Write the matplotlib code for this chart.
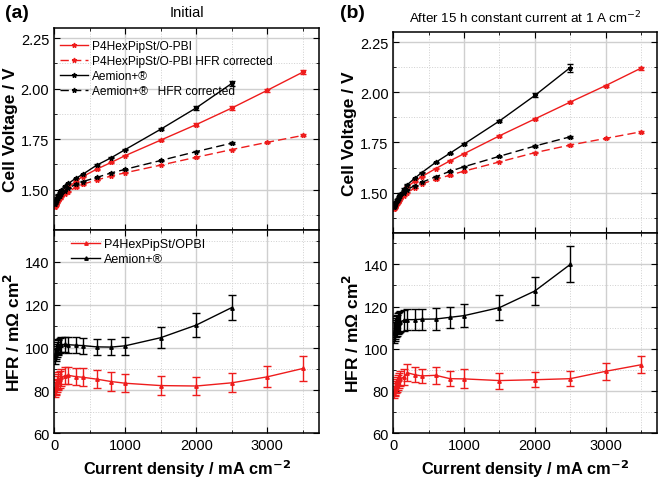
import numpy as np
import matplotlib
matplotlib.use("Agg")
import matplotlib.pyplot as plt
from matplotlib.ticker import MultipleLocator

plt.rcParams['font.family'] = ['Liberation Sans', 'DejaVu Sans']

# current density points (mA cm-2)
j_pbi = [10, 20, 30, 40, 50, 60, 80, 100, 150, 200, 300, 400, 600, 800, 1000, 1500, 2000, 2500, 3000, 3500]
j_aem = [10, 20, 30, 40, 50, 60, 80, 100, 150, 200, 300, 400, 600, 800, 1000, 1500, 2000, 2500]

# (a) initial - cell voltage
v_pbi_a = [1.415, 1.425, 1.435, 1.445, 1.452, 1.46, 1.47, 1.48, 1.495, 1.51, 1.54, 1.564, 1.601, 1.634, 1.668, 1.745, 1.822, 1.904, 1.992, 2.082]
v_pbi_a_err = [0.003]*14 + [0.004, 0.005, 0.007, 0.008, 0.008, 0.011]
vc_pbi_a = [1.413, 1.422, 1.43, 1.437, 1.443, 1.448, 1.457, 1.465, 1.478, 1.49, 1.51, 1.526, 1.547, 1.567, 1.583, 1.621, 1.66, 1.698, 1.734, 1.768]
vc_pbi_a_err = [0.002]*17 + [0.003, 0.003, 0.005]
v_aem_a = [1.43, 1.44, 1.45, 1.46, 1.468, 1.475, 1.487, 1.497, 1.515, 1.53, 1.555, 1.575, 1.621, 1.657, 1.698, 1.799, 1.905, 2.026]
v_aem_a_err = [0.003]*14 + [0.004, 0.006, 0.01, 0.012]
vc_aem_a = [1.428, 1.436, 1.444, 1.45, 1.456, 1.462, 1.47, 1.478, 1.495, 1.507, 1.525, 1.539, 1.56, 1.582, 1.6, 1.644, 1.688, 1.73]
vc_aem_a_err = [0.002]*16 + [0.003, 0.004]

# (a) initial - HFR
r_pbi_a = [80.5, 81.5, 82, 83, 84, 84.5, 85.2, 86, 86.8, 87, 86.4, 86.1, 85.2, 84.1, 83.3, 82.2, 82.0, 83.5, 86.3, 90.2]
r_pbi_a_err = [3.5, 3.5, 3.5, 3.8, 3.8, 4, 4, 4, 4, 4, 4, 4.1, 4.2, 4.3, 4.3, 4.5, 4.2, 4.5, 4.9, 5.8]
r_aem_a = [96, 97, 98, 99, 100, 100.5, 101, 101.3, 101.5, 101.3, 101.1, 100.9, 100.3, 100.2, 100.8, 104.6, 110.5, 118.7]
r_aem_a_err = [3.5, 3.5, 3.5, 3.5, 3.5, 3.6, 3.6, 3.6, 3.6, 3.7, 3.7, 3.7, 3.8, 3.8, 4.3, 5.0, 5.6, 6.0]

# (b) after 15 h at 1 A cm-2 - cell voltage
v_pbi_b = [1.42, 1.428, 1.436, 1.444, 1.451, 1.458, 1.47, 1.48, 1.502, 1.53, 1.556, 1.579, 1.62, 1.658, 1.694, 1.783, 1.867, 1.951, 2.033, 2.12]
v_pbi_b_err = [0.003]*15 + [0.004, 0.004, 0.005, 0.005, 0.007]
vc_pbi_b = [1.418, 1.425, 1.432, 1.438, 1.444, 1.45, 1.46, 1.468, 1.485, 1.5, 1.523, 1.543, 1.566, 1.587, 1.607, 1.653, 1.699, 1.737, 1.77, 1.803]
vc_pbi_b_err = [0.002]*17 + [0.003, 0.003, 0.004]
v_aem_b = [1.428, 1.437, 1.446, 1.455, 1.463, 1.47, 1.482, 1.494, 1.518, 1.54, 1.571, 1.599, 1.651, 1.696, 1.742, 1.857, 1.984, 2.123]
v_aem_b_err = [0.003]*15 + [0.005, 0.01, 0.02]
vc_aem_b = [1.426, 1.434, 1.442, 1.449, 1.456, 1.462, 1.472, 1.482, 1.5, 1.515, 1.535, 1.551, 1.579, 1.606, 1.629, 1.681, 1.732, 1.778]
vc_aem_b_err = [0.002]*15 + [0.003, 0.004, 0.006]

# (b) HFR
r_pbi_b = [79.5, 80.6, 81.5, 82.2, 83, 84, 85, 85.7, 86.6, 88.6, 87.7, 87.1, 87.4, 85.8, 85.7, 84.9, 85.3, 85.8, 89.3, 92.4]
r_pbi_b_err = [3.0, 3.2, 3.3, 3.4, 3.5, 3.5, 3.5, 3.6, 3.7, 4.0, 3.5, 3.5, 3.9, 3.5, 4.5, 3.8, 3.5, 3.5, 3.9, 4.1]
r_aem_b = [107.5, 108.5, 109.5, 110.5, 111, 111.8, 112.3, 112.8, 113.5, 113.8, 113.8, 114, 114.1, 114.9, 115.7, 119.5, 127.4, 140]
r_aem_b_err = [5, 5, 5, 5, 5, 5, 5, 5, 5, 5, 5, 5, 5, 5, 5.3, 6, 6.7, 8.5]

RED = '#ee1c1c'
fig = plt.figure(figsize=(6.61, 4.85), dpi=100)

def style(ax, ymaj, ymin):
    ax.set_xlim(0, 3730)
    ax.xaxis.set_major_locator(MultipleLocator(1000))
    ax.xaxis.set_minor_locator(MultipleLocator(500))
    ax.yaxis.set_major_locator(MultipleLocator(ymaj))
    ax.yaxis.set_minor_locator(MultipleLocator(ymin))
    ax.grid(which='major', color='#cfcfcf', lw=1.0)
    ax.grid(which='minor', color='#cfcfcf', lw=0.7, ls=':')
    ax.set_axisbelow(True)
    ax.tick_params(which='both', direction='in', top=True, right=True, labelsize=10.5)
    ax.tick_params(which='major', length=4)
    ax.tick_params(which='minor', length=2)
    for s in ax.spines.values():
        s.set_linewidth(1.1)

def add_legend(ax, fs, anchor):
    hs, ls = ax.get_legend_handles_labels()
    hs = [h[0] for h in hs]
    ax.legend(hs, ls, loc='upper left', frameon=False, fontsize=fs, handlelength=2.3,
              labelspacing=0.25, borderaxespad=0.0, handletextpad=0.35,
              bbox_to_anchor=anchor)

def volt_panel(ax, data):
    for j, v, e, c, ls, lab in data:
        ax.errorbar(j, v, yerr=e, color=c, ls=ls, lw=1.0, marker='*', ms=3.5,
                    capsize=2, elinewidth=0.8, label=lab, dashes=(6, 3) if ls == '--' else (None, None))
    ax.set_ylim(1.30, 2.30)
    style(ax, 0.25, 0.125)
    ax.yaxis.set_major_formatter(matplotlib.ticker.FormatStrFormatter('%.2f'))
    ax.tick_params(labelbottom=False)
    ax.set_ylabel('Cell Voltage / V', fontsize=12.5, fontweight='bold', labelpad=2)

def hfr_panel(ax, data):
    for j, r, e, c, lab in data:
        ax.errorbar(j, r, yerr=e, color=c, lw=1.0, marker='^', ms=2.5,
                    capsize=2.8, elinewidth=1.0, label=lab)
    ax.set_ylim(60, 155)
    style(ax, 20, 10)
    ax.set_ylabel('HFR / m\u03a9 cm$\\mathbf{^2}$', fontsize=12.5, fontweight='bold', labelpad=1)
    ax.set_xlabel('Current density / mA cm$\\mathbf{^{-2}}$', fontsize=11.8, fontweight='bold', labelpad=4)

# panel (a)
ax1 = fig.add_axes([0.082, 0.524, 0.401, 0.416])
volt_panel(ax1, [
    (j_pbi, v_pbi_a, v_pbi_a_err, RED, '-', 'P4HexPipSt/O-PBI'),
    (j_pbi, vc_pbi_a, vc_pbi_a_err, RED, '--', 'P4HexPipSt/O-PBI HFR corrected'),
    (j_aem, v_aem_a, v_aem_a_err, 'black', '-', 'Aemion+\u00ae'),
    (j_aem, vc_aem_a, vc_aem_a_err, 'black', '--', 'Aemion+\u00ae   HFR corrected'),
])
add_legend(ax1, 8.6, (0.005, 0.965))
ax1.set_title('Initial', fontsize=10.5, pad=9)

ax2 = fig.add_axes([0.082, 0.105, 0.401, 0.419])
hfr_panel(ax2, [
    (j_pbi, r_pbi_a, r_pbi_a_err, RED, 'P4HexPipSt/OPBI'),
    (j_aem, r_aem_a, r_aem_a_err, 'black', 'Aemion+\u00ae'),
])
add_legend(ax2, 9.0, (0.045, 0.985))

# panel (b)
ax3 = fig.add_axes([0.595, 0.518, 0.3995, 0.414])
volt_panel(ax3, [
    (j_pbi, v_pbi_b, v_pbi_b_err, RED, '-', None),
    (j_pbi, vc_pbi_b, vc_pbi_b_err, RED, '--', None),
    (j_aem, v_aem_b, v_aem_b_err, 'black', '-', None),
    (j_aem, vc_aem_b, vc_aem_b_err, 'black', '--', None),
])
ax3.set_title('After 15 h constant current at 1 A cm$^{-2}$', fontsize=9.6, pad=7)

ax4 = fig.add_axes([0.595, 0.105, 0.3995, 0.413])
hfr_panel(ax4, [
    (j_pbi, r_pbi_b, r_pbi_b_err, RED, None),
    (j_aem, r_aem_b, r_aem_b_err, 'black', None),
])

fig.text(0.008, 0.962, '(a)', fontsize=14, fontweight='bold')
fig.text(0.515, 0.962, '(b)', fontsize=14, fontweight='bold')

fig.savefig('out.png', dpi=100)
